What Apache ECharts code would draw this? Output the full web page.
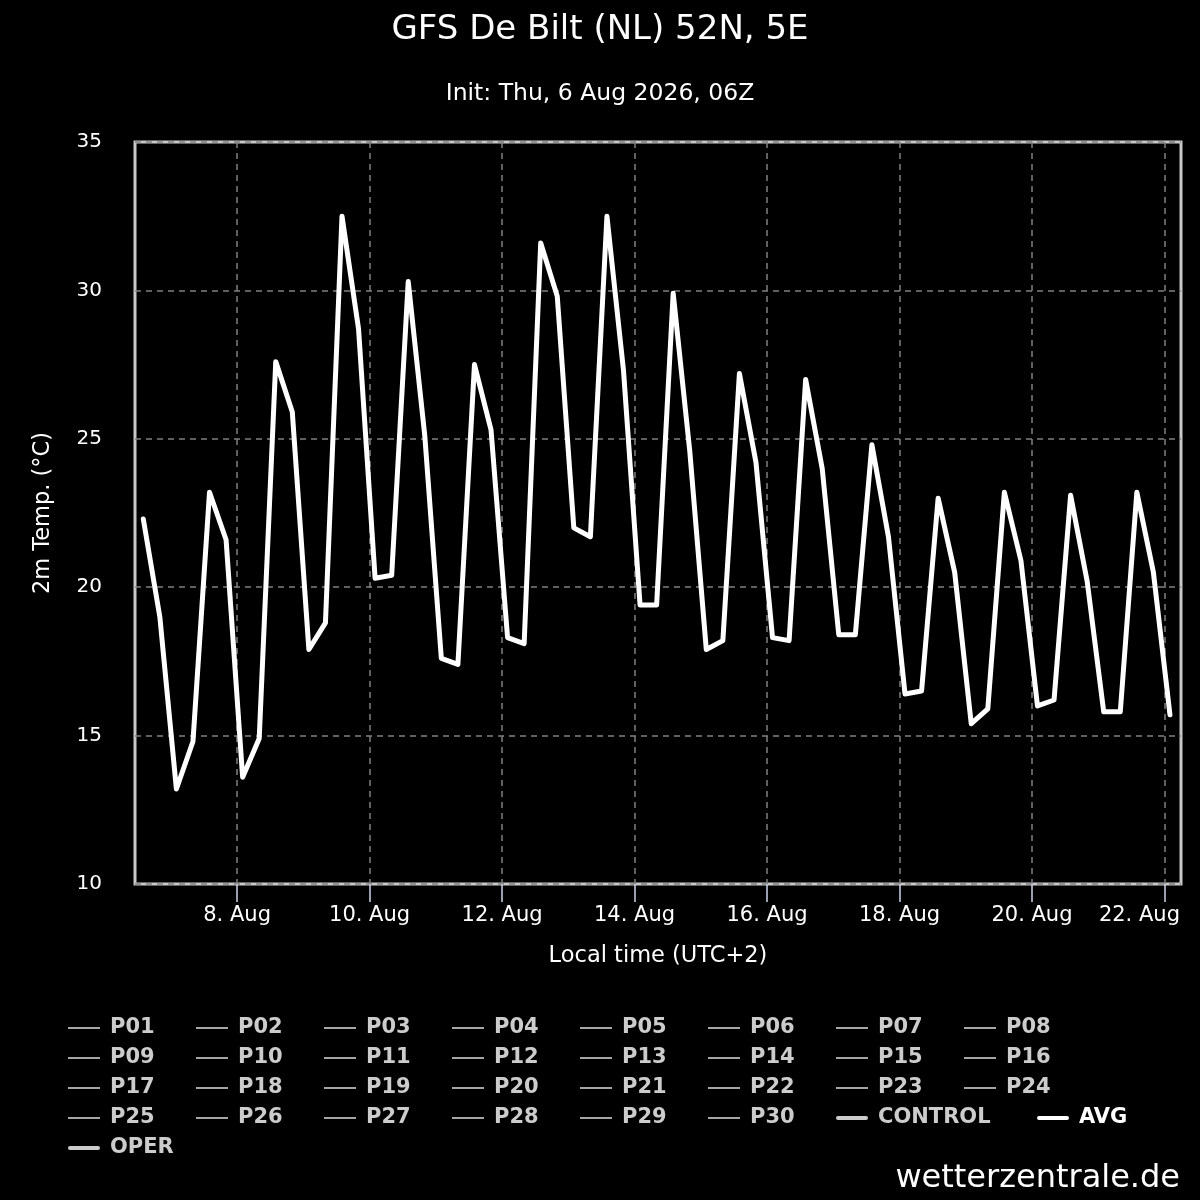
<!DOCTYPE html>
<html>
<head>
<meta charset="utf-8">
<script src="https://cdn.jsdelivr.net/npm/echarts@6/dist/echarts.min.js"></script>
<style>
html,body{margin:0;padding:0;background:#000;}
#chart{width:1200px;height:1200px;}
</style>
</head>
<body>
<div id="chart"></div>
<script>
// ---- data ----
const chartTitle = 'GFS De Bilt (NL) 52N, 5E';
const chartSubtitle = 'Init: Thu, 6 Aug 2026, 06Z';
const yAxisName = '2m Temp. (\u00B0C)';
const xAxisName = 'Local time (UTC+2)';
const watermark = 'wetterzentrale.de';
// first value: 6 Aug 2026 14:00 local time, one value every 6 hours
const firstTime = [2026, 7, 6, 14];
const stepHours = 6;
const avgTemp = [
  22.3, 19.0, 13.2, 14.8, 23.2, 21.6, 13.6, 14.9,
  27.6, 25.9, 17.9, 18.8, 32.5, 28.7, 20.3, 20.4,
  30.3, 25.1, 17.6, 17.4, 27.5, 25.3, 18.3, 18.1,
  31.6, 29.8, 22.0, 21.7, 32.5, 27.3, 19.4, 19.4,
  29.9, 24.6, 17.9, 18.2, 27.2, 24.2, 18.3, 18.2,
  27.0, 24.0, 18.4, 18.4, 24.8, 21.7, 16.4, 16.5,
  23.0, 20.5, 15.4, 15.9, 23.2, 20.9, 16.0, 16.2,
  23.1, 20.2, 15.8, 15.8, 23.2, 20.5, 15.7
];
const memberNames = [];
for (let i = 1; i <= 30; i++) memberNames.push('P' + (i < 10 ? '0' + i : i));
const tickDays = [8, 10, 12, 14, 16, 18, 20, 22];
const yTicks = { min: 10, max: 35, interval: 5 };

// ---- build ----
const H = 3600 * 1000;
const t0 = Date.UTC(firstTime[0], firstTime[1], firstTime[2], firstTime[3]);
const avgData = avgTemp.map((v, i) => [t0 + i * stepHours * H, v]);
const tickValues = tickDays.map(d => Date.UTC(2026, 7, d, 0));
const lastTick = tickValues[tickValues.length - 1];
const xMin = Date.UTC(2026, 7, 6, 11);
const xMax = Date.UTC(2026, 7, 22, 6);

const FONT = 'DejaVu Sans';
const thinIcon = 'path://M0 0H32V1.6H0Z';
const thickIcon = 'path://M2 0H30A2 2 0 0 1 30 4H2A2 2 0 0 1 2 0Z';

const series = [];
const legendData = [];
memberNames.forEach(n => {
  series.push({ name: n, type: 'line', data: [], symbol: 'none', color: '#cccccc',
    lineStyle: { width: 1, color: '#cccccc' } });
  legendData.push({ name: n, icon: thinIcon, itemStyle: { color: '#d0d0d0' },
    textStyle: { color: '#cccccc' } });
});
series.push({ name: 'CONTROL', type: 'line', data: [], symbol: 'none', color: '#cccccc',
  lineStyle: { width: 4, color: '#cccccc' } });
legendData.push({ name: 'CONTROL', icon: thickIcon, itemStyle: { color: '#cccccc' },
  textStyle: { color: '#cccccc', width: 151 } });
series.push({ name: 'AVG', type: 'line', data: avgData, symbol: 'none', color: '#ffffff',
  lineStyle: { width: 5, color: '#ffffff', cap: 'round', join: 'round' }, z: 10 });
legendData.push({ name: 'AVG', icon: thickIcon, itemStyle: { color: '#ffffff' },
  textStyle: { color: '#ffffff', width: 60 } });
series.push({ name: 'OPER', type: 'line', data: [], symbol: 'none', color: '#cccccc',
  lineStyle: { width: 4, color: '#cccccc' } });
legendData.push({ name: 'OPER', icon: thickIcon, itemStyle: { color: '#cccccc' },
  textStyle: { color: '#cccccc' } });

const chart = echarts.init(document.getElementById('chart'));
chart.setOption({
  backgroundColor: '#000000',
  animation: false,
  textStyle: { fontFamily: FONT },
  title: [
    { text: chartTitle, left: 'center', top: 8,
      textStyle: { color: '#ffffff', fontSize: 34, fontWeight: 'normal', fontFamily: FONT } },
    { text: chartSubtitle, left: 'center', top: 77,
      textStyle: { color: '#ffffff', fontSize: 23.5, fontWeight: 'normal', fontFamily: FONT } },
    { text: watermark, right: 15, bottom: 0,
      textStyle: { color: '#ffffff', fontSize: 32, fontWeight: 'normal', fontFamily: FONT } }
  ],
  grid: { left: 135, right: 19, top: 142, bottom: 316, show: true,
    outerBoundsMode: 'none', containLabel: false,
    borderColor: '#c8c8c8', borderWidth: 3, backgroundColor: 'transparent' },
  xAxis: {
    type: 'value', min: xMin, max: xMax,
    name: xAxisName, nameLocation: 'middle', nameGap: 61,
    nameTextStyle: { color: '#ffffff', fontSize: 22.5, fontFamily: FONT },
    axisLine: { show: false },
    axisTick: { show: true, length: 18, customValues: tickValues,
      lineStyle: { color: '#ccd6eb', width: 1.5 } },
    axisLabel: { customValues: tickValues, color: '#ffffff', fontSize: 21, margin: 21,
      fontFamily: FONT, hideOverlap: false, showMinLabel: true, showMaxLabel: true,
      formatter: v => {
        const s = new Date(v).getUTCDate() + '. Aug';
        return v === lastTick ? '{last|' + s + '}' : s;
      },
      rich: { last: { color: '#ffffff', fontSize: 21, fontFamily: FONT, padding: [0, 50, 0, 0] } } },
    splitLine: { show: true, lineStyle: { color: '#808080', width: 1.5, type: [6, 5] } }
  },
  yAxis: {
    type: 'value', min: yTicks.min, max: yTicks.max, interval: yTicks.interval,
    name: yAxisName, nameLocation: 'middle', nameGap: 80, nameRotate: 90,
    nameTextStyle: { color: '#ffffff', fontSize: 22.5, fontFamily: FONT },
    axisLine: { show: false },
    axisTick: { show: false },
    axisLabel: { color: '#ffffff', fontSize: 20, margin: 33, fontFamily: FONT, padding: [4, 0, 0, 0] },
    splitLine: { show: true, lineStyle: { color: '#808080', width: 1.5, type: [6, 5] } }
  },
  legend: {
    data: legendData,
    left: 68, top: 1017, width: 1100,
    orient: 'horizontal',
    padding: 0,
    itemWidth: 32, itemHeight: 14, itemGap: 8,
    selectedMode: false,
    textStyle: { color: '#cccccc', fontSize: 21, fontWeight: 'bold', fontFamily: FONT,
      width: 78, lineHeight: 22, padding: [0, 0, 0, 5] }
  },
  series: series
});
</script>
</body>
</html>
